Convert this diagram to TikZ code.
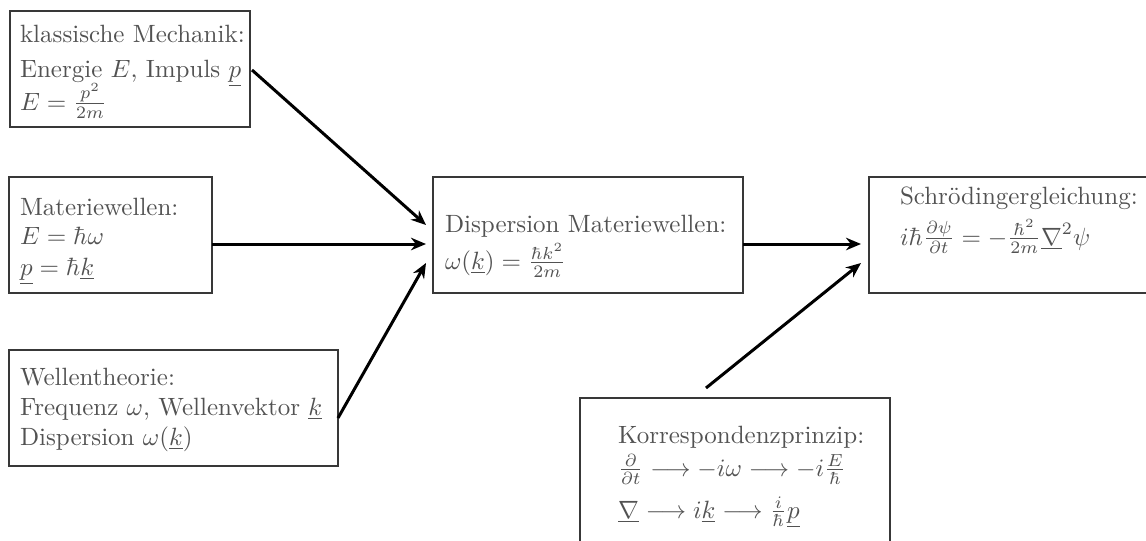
\documentclass[tikz,border=0pt]{standalone}
\usetikzlibrary{arrows.meta,calc}
\begin{document}
\begin{tikzpicture}[x=0.4pt,y=-0.4pt,
  box/.style={draw=black!78,line width=0.75pt,rectangle,anchor=north west,inner sep=0pt,outer sep=0pt},
  txt/.style={anchor=base west,inner sep=0pt,outer sep=0pt,text=black!68},
  conn/.style={line width=1.2pt,-{Stealth[length=6pt,width=5pt]}}]
\useasboundingbox (0,0) rectangle (1146,540);
% boxes
\node[box,minimum width=96pt,minimum height=46.4pt] (k1) at (10,11) {};
\node[box,minimum width=81.2pt,minimum height=46.4pt] (mw) at (9,177) {};
\node[box,minimum width=131.6pt,minimum height=46.4pt] (wt) at (9,350) {};
\node[box,minimum width=124pt,minimum height=46.4pt] (disp) at (433,177) {};
\node[box,minimum width=116pt,minimum height=46.4pt] (schr) at (869,177) {};
\node[box,minimum width=124pt,minimum height=64pt] (korr) at (580,398) {};
% texts
\node[txt] (k1a) at (20,42) {klassische Mechanik:};
\node[txt] (k1b) at (20,77) {Energie $E$, Impuls $\underline{p}$};
\node[txt] (k1c) at (20,110) {$E=\frac{p^2}{2m}$};
\node[txt] (mwa) at (20,215) {Materiewellen:};
\node[txt] (mwb) at (20,244) {$E=\hbar\omega$};
\node[txt] (mwc) at (20,275) {$\underline{p}=\hbar\underline{k}$};
\node[txt] (wta) at (20,385) {Wellentheorie:};
\node[txt] (wtb) at (20,415) {Frequenz $\omega$, Wellenvektor $\underline{k}$};
\node[txt] (wtc) at (20,445) {Dispersion $\omega(\underline{k})$};
\node[txt] (dispa) at (445,232) {Dispersion Materiewellen:};
\node[txt] (dispb) at (445,269) {$\omega(\underline{k}) = \frac{\hbar k^2}{2m}$};
\node[txt] (schra) at (900,204) {Schrödingergleichung:};
\node[txt] (schrb) at (900,245) {$i\hbar\frac{\partial\psi}{\partial t} = -\frac{\hbar^2}{2m}\underline{\nabla}^2\psi$};
\node[txt] (korra) at (618,443) {Korrespondenzprinzip:};
\node[txt] (korrb) at (618,476) {$\frac{\partial}{\partial t}\longrightarrow -i\omega\longrightarrow -i\frac{E}{\hbar}$};
\node[txt] (korrc) at (618,518) {$\underline{\nabla}\longrightarrow i\underline{k}\longrightarrow \frac{i}{\hbar}\underline{p}$};
% connectors
\draw[conn] ($(k1.east)+(2,1)$) -- ($(disp.west)+(-7,-10)$);
\draw[conn] ($(mw.east)+(0,9)$) -- ($(disp.west)+(-7,9)$);
\draw[conn] ($(wt.east)+(0,10)$) -- ($(disp.west)+(-7,28)$);
\draw[conn] ($(disp.east)+(0,9)$) -- ($(schr.west)+(-8,9)$);
\draw[conn] ($(korr.north)+(-29,-10)$) -- ($(schr.west)+(-8,28)$);
\end{tikzpicture}
\end{document}
